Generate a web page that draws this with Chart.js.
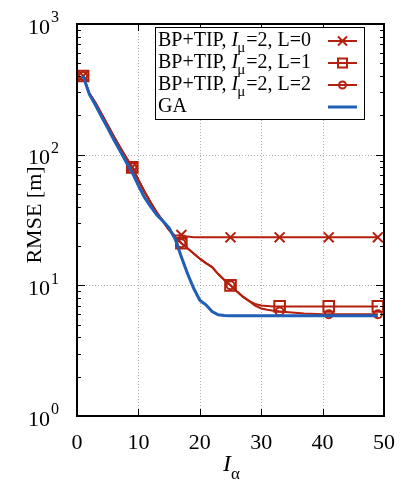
<!DOCTYPE html>
<html>
<head>
<meta charset="utf-8">
<script src="https://cdn.jsdelivr.net/npm/chart.js@4.4.1/dist/chart.umd.min.js"></script>
<style>
  html, body { margin: 0; padding: 0; background: #fff; }
  #wrap { width: 415px; height: 485px; position: relative; }
</style>
</head>
<body>
<div id="wrap"><canvas id="rmseChart"></canvas></div>
<script>
// iteration index I_alpha
const iters = [1,2,3,4,5,6,7,8,9,10,11,12,13,14,15,16,17,18,19,20,21,22,23,24,25,
  26,27,28,29,30,31,32,33,34,35,36,37,38,39,40,41,42,43,44,45,46,47,48,49];

// RMSE [m] per curve
const bpL0 = [400,295,250,205,168,138,114,95,80,64,52,43,36,31,26.5,24,24.3,23.6,23.3,23.3,
  23.3,23.3,23.3,23.3,23.3,23.3,23.3,23.3,23.3,23.3,23.3,23.3,23.3,23.3,23.3,23.3,23.3,23.3,
  23.3,23.3,23.3,23.3,23.3,23.3,23.3,23.3,23.3,23.3,23.3];
const bpL1 = [400,295,250,205,168,138,114,95,80,64,52,43,36,31,26.5,23.5,21,19.2,17.5,16,
  14.8,13.8,12.2,11,10,9,8.2,7.6,7.2,7.0,6.95,6.9,6.9,6.9,6.9,6.9,6.9,6.9,6.9,6.9,6.9,6.9,
  6.9,6.9,6.9,6.9,6.9,6.9,6.9];
const bpL2 = [400,295,250,205,168,138,114,95,80,64,52,43,36,31,26.5,23.5,21,19.2,17.5,16,
  14.8,13.8,12.2,11,10,9,8.2,7.6,7.0,6.65,6.5,6.4,6.3,6.25,6.2,6.15,6.1,6.07,6.04,6.02,
  6.0,6.0,6.0,6.0,6.0,6.0,6.0,6.0,6.0];
const ga = [400,290,240,195,160,130,107,88,73,58,47,40,34.5,31,27.5,22.5,16.5,12.3,9.5,7.7,
  7.1,6.3,5.95,5.88,5.85,5.85,5.85,5.85,5.85,5.85,5.85,5.85,5.85,5.85,5.85,5.85,5.85,5.85,
  5.85,5.85,5.85,5.85,5.85,5.85,5.85,5.85,5.85,5.85,5.85];

const markerIters = [1, 9, 17, 25, 33, 41, 49];
const xTicks = [0, 10, 20, 30, 40, 50];
const yDecades = [1, 10, 100, 1000];

const RED = '#b3200e';
const BLUE = '#1f5fb8';
const SERIF = '"Liberation Serif", "DejaVu Serif", serif';

const toXY = arr => arr.map((v, i) => ({ x: iters[i], y: v }));
const markerRadius = r => ctx => markerIters.includes(iters[ctx.dataIndex]) ? r : 0;

function redSet(label, data, style, r) {
    return {
        label: label, data: toXY(data), borderColor: RED, backgroundColor: 'rgba(0,0,0,0)',
        borderWidth: 2, pointStyle: style, pointRadius: markerRadius(r),
        pointBorderColor: RED, pointBorderWidth: 2, pointBackgroundColor: 'rgba(0,0,0,0)',
        tension: 0, order: 1
    };
}

// Axes, grid, labels and legend drawn by hand to follow the gnuplot look
const framePlugin = {
    id: 'frame',
    beforeDatasetsDraw(chart) {
        const { ctx, chartArea: a, scales: { x, y } } = chart;
        ctx.save();
        ctx.strokeStyle = '#b0b0b0';
        ctx.lineWidth = 1;
        ctx.setLineDash([1, 2]);
        xTicks.slice(1, -1).forEach(t => {
            const px = Math.round(x.getPixelForValue(t)) + 0.5;
            ctx.beginPath(); ctx.moveTo(px, a.top); ctx.lineTo(px, a.bottom); ctx.stroke();
        });
        yDecades.slice(1, -1).forEach(t => {
            const py = Math.round(y.getPixelForValue(t)) + 0.5;
            ctx.beginPath(); ctx.moveTo(a.left, py); ctx.lineTo(a.right, py); ctx.stroke();
        });
        ctx.restore();
    },
    afterDraw(chart) {
        const { ctx, chartArea: a, scales: { x, y } } = chart;
        ctx.save();
        ctx.strokeStyle = '#000';
        ctx.lineWidth = 1;
        // inward ticks
        ctx.beginPath();
        xTicks.forEach(t => {
            const px = Math.round(x.getPixelForValue(t)) + 0.5;
            ctx.moveTo(px, a.bottom); ctx.lineTo(px, a.bottom - 7);
            ctx.moveTo(px, a.top); ctx.lineTo(px, a.top + 7);
        });
        for (let d = 0; d < 3; d++) {
            for (let m = 1; m <= 9; m++) {
                const v = Math.pow(10, d) * m;
                const py = Math.round(y.getPixelForValue(v)) + 0.5;
                const len = m === 1 ? 8 : 4;
                ctx.moveTo(a.left, py); ctx.lineTo(a.left + len, py);
                ctx.moveTo(a.right, py); ctx.lineTo(a.right - len, py);
            }
        }
        ctx.stroke();
        // frame
        ctx.lineWidth = 2;
        ctx.strokeRect(a.left, a.top, a.right - a.left, a.bottom - a.top);

        // tick labels
        ctx.fillStyle = '#000';
        ctx.font = '22px ' + SERIF;
        ctx.textAlign = 'center';
        ctx.textBaseline = 'middle';
        xTicks.forEach(t => ctx.fillText(String(t), x.getPixelForValue(t), a.bottom + 27));
        yDecades.forEach((t, i) => {
            const py = y.getPixelForValue(t);
            ctx.font = '22px ' + SERIF;
            ctx.textAlign = 'right';
            ctx.fillText('10', 50, py + 4);
            ctx.font = '16px ' + SERIF;
            ctx.textAlign = 'left';
            ctx.fillText(String(i), 51, py - 6);
        });

        // axis titles
        ctx.font = '22px ' + SERIF;
        ctx.textAlign = 'center';
        ctx.save();
        ctx.translate(35, 215);
        ctx.rotate(-Math.PI / 2);
        ctx.fillText('RMSE [m]', 0, 0);
        ctx.restore();
        ctx.font = 'italic 24px ' + SERIF;
        ctx.fillText('I', 227, 465);
        ctx.font = '17px ' + SERIF;
        ctx.textAlign = 'left';
        ctx.fillText('α', 231, 475);

        // legend box
        const lx = 155, ly = 27, lw = 209, lh = 92;
        ctx.fillStyle = '#fff';
        ctx.fillRect(lx, ly, lw, lh);
        ctx.lineWidth = 1;
        ctx.strokeStyle = '#000';
        ctx.strokeRect(lx + 0.5, ly + 0.5, lw, lh);
        const rows = [
            { L: '0', style: 'cross' }, { L: '1', style: 'rect' },
            { L: '2', style: 'circle' }, { L: null, style: 'ga' }
        ];
        rows.forEach((r, i) => {
            const cy = ly + 14 + i * 22;
            ctx.fillStyle = '#000';
            ctx.textBaseline = 'middle';
            ctx.textAlign = 'left';
            let tx = 158;
            if (r.L !== null) {
                ctx.font = '20px ' + SERIF;
                ctx.fillText('BP+TIP, ', tx, cy); tx += ctx.measureText('BP+TIP, ').width;
                ctx.font = 'italic 20px ' + SERIF;
                ctx.fillText('I', tx, cy); tx += ctx.measureText('I').width - 1;
                ctx.font = '15px ' + SERIF;
                ctx.fillText('μ', tx, cy + 7); tx += ctx.measureText('μ').width + 1;
                ctx.font = '20px ' + SERIF;
                ctx.fillText('=2, L=' + r.L, tx, cy);
            } else {
                ctx.font = '20px ' + SERIF;
                ctx.fillText('GA', tx, cy);
            }
            const sx0 = 328, sx1 = 357, mx = 342.5;
            ctx.beginPath();
            ctx.moveTo(sx0, cy); ctx.lineTo(sx1, cy);
            ctx.strokeStyle = r.style === 'ga' ? BLUE : RED;
            ctx.lineWidth = r.style === 'ga' ? 3 : 2;
            ctx.stroke();
            ctx.lineWidth = 2;
            ctx.beginPath();
            if (r.style === 'cross') {
                ctx.moveTo(mx - 4.5, cy - 4.5); ctx.lineTo(mx + 4.5, cy + 4.5);
                ctx.moveTo(mx - 4.5, cy + 4.5); ctx.lineTo(mx + 4.5, cy - 4.5);
            } else if (r.style === 'rect') {
                ctx.rect(mx - 4.5, cy - 4.5, 9, 9);
            } else if (r.style === 'circle') {
                ctx.arc(mx, cy, 3.5, 0, Math.PI * 2);
            }
            ctx.stroke();
        });
        ctx.restore();
    }
};

new Chart(document.getElementById('rmseChart'), {
    type: 'line',
    data: {
        datasets: [
            redSet('BP+TIP, Iμ=2, L=0', bpL0, 'crossRot', 7),
            redSet('BP+TIP, Iμ=2, L=1', bpL1, 'rect', 7.5),
            redSet('BP+TIP, Iμ=2, L=2', bpL2, 'circle', 4),
            {
                label: 'GA', data: toXY(ga), borderColor: BLUE, borderWidth: 3,
                pointRadius: 0, tension: 0, order: 0
            }
        ]
    },
    options: {
        responsive: true, maintainAspectRatio: false, animation: false,
        devicePixelRatio: 1,
        layout: { padding: { top: 24, right: 31, left: 0, bottom: 0 } },
        plugins: { legend: { display: false }, tooltip: { enabled: false } },
        scales: {
            x: {
                type: 'linear', min: 0, max: 50,
                ticks: { display: false }, grid: { display: false }, border: { display: false },
                afterFit: s => { s.height = 69; }
            },
            y: {
                type: 'logarithmic', min: 1, max: 1000,
                ticks: { display: false }, grid: { display: false }, border: { display: false },
                afterFit: s => { s.width = 77; }
            }
        }
    },
    plugins: [framePlugin]
});
</script>
</body>
</html>
